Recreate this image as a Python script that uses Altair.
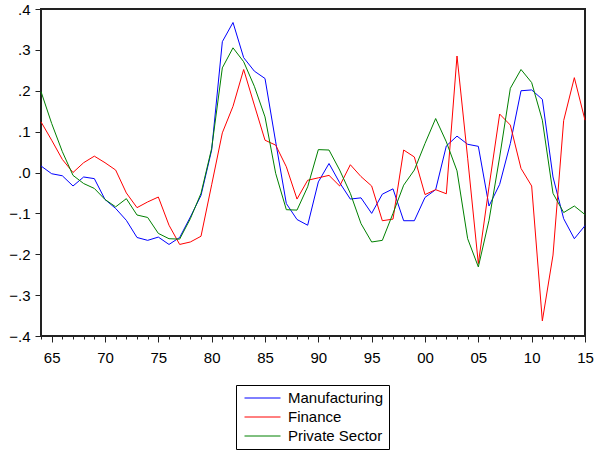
import altair as alt
import pandas as pd

# Annual series, 1964-2015
years = list(range(1964, 2016))

manufacturing = [
    0.016, -0.003, -0.008, -0.033, -0.011, -0.015, -0.066, -0.088, -0.117, -0.159,
    -0.166, -0.158, -0.176, -0.159, -0.109, -0.056, 0.055, 0.320, 0.367, 0.281,
    0.248, 0.230, 0.075, -0.076, -0.115, -0.129, -0.023, 0.022, -0.025, -0.065,
    -0.062, -0.100, -0.053, -0.040, -0.118, -0.118, -0.061, -0.042, 0.065, 0.089,
    0.069, 0.064, -0.082, -0.029, 0.071, 0.200, 0.202, 0.179, -0.011, -0.113,
    -0.162, -0.130,
]

finance = [
    0.124, 0.079, 0.032, 0.000, 0.024, 0.040, 0.024, 0.006, -0.050, -0.086,
    -0.072, -0.060, -0.129, -0.176, -0.170, -0.156, -0.030, 0.097, 0.162, 0.252,
    0.165, 0.079, 0.067, 0.014, -0.065, -0.019, -0.013, -0.007, -0.033, 0.019,
    -0.010, -0.033, -0.118, -0.114, 0.055, 0.038, -0.054, -0.042, -0.052, 0.285,
    0.035, -0.223, -0.035, 0.143, 0.116, 0.010, -0.033, -0.363, -0.202, 0.127,
    0.232, 0.128,
]

private_sector = [
    0.198, 0.120, 0.051, -0.007, -0.027, -0.039, -0.066, -0.084, -0.064, -0.104,
    -0.110, -0.149, -0.162, -0.163, -0.113, -0.051, 0.059, 0.256, 0.305, 0.271,
    0.211, 0.136, -0.002, -0.091, -0.092, -0.035, 0.056, 0.055, 0.006, -0.051,
    -0.125, -0.170, -0.166, -0.100, -0.031, 0.006, 0.071, 0.132, 0.075, 0.004,
    -0.162, -0.231, -0.117, 0.038, 0.206, 0.252, 0.220, 0.128, -0.051, -0.098,
    -0.082, -0.103,
]

series_names = ["Manufacturing", "Finance", "Private Sector"]
series_colors = ["#0000ff", "#ff0000", "#008000"]
y_ticks = [-0.4, -0.3, -0.2, -0.1, 0.0, 0.1, 0.2, 0.3, 0.4]

rows = []
for order, (name, vals) in enumerate(zip(series_names, [manufacturing, finance, private_sector])):
    for yr, v in zip(years, vals):
        rows.append({"year": yr, "value": v, "series": name, "order": order})
df = pd.DataFrame(rows)

FONT = "Liberation Sans"

x_enc = alt.X(
    "year:Q",
    scale=alt.Scale(domain=[1964, 2015], nice=False, zero=False),
    axis=alt.Axis(
        values=years,
        title=None,
        grid=False,
        domain=False,
        labelExpr="datum.value % 5 === 0 ? substring(toString(datum.value), 2, 4) : ''",
        labelOverlap=False,
        labelFlush=False,
        labelFontSize=15,
        labelFont=FONT,
        labelColor="black",
        labelPadding=8,
        tickColor="#222",
        tickWidth=1,
        tickSize={"condition": {"test": "datum.value % 5 === 0", "value": 6}, "value": 3},
    ),
)

y_enc = alt.Y(
    "value:Q",
    scale=alt.Scale(domain=[-0.4, 0.4], nice=False, zero=False),
    axis=alt.Axis(
        values=y_ticks,
        title=None,
        grid=False,
        domain=False,
        labelExpr="replace(format(datum.value, '.1f'), '0.', '.')",
        labelFontSize=15,
        labelFont=FONT,
        labelColor="black",
        labelPadding=5,
        tickColor="#222",
        tickSize=6,
    ),
)

color_enc = alt.Color(
    "series:N",
    scale=alt.Scale(domain=series_names, range=series_colors),
    legend=alt.Legend(
        title=None,
        orient="none",
        legendX=195,
        legendY=376,
        direction="vertical",
        strokeColor="black",
        fillColor="white",
        padding=5,
        rowPadding=3,
        symbolType="M-0.6,0H4.2",
        symbolSize=225,
        symbolStrokeWidth=1,
        labelOffset=31,
        labelFontSize=15,
        labelFont=FONT,
        labelColor="black",
        labelLimit=300,
    ),
)

chart = (
    alt.Chart(df)
    .mark_line(strokeWidth=1)
    .encode(x=x_enc, y=y_enc, color=color_enc, order="order:Q")
    .properties(
        width=544,
        height=327,
        autosize=alt.AutoSizeParams(type="none"),
        padding={"left": 41, "top": 9, "right": 9, "bottom": 115},
        background="white",
    )
    .configure_view(stroke="#222", strokeWidth=2)
)

chart.save("out.html", embed_options={"renderer": "svg", "actions": False})
